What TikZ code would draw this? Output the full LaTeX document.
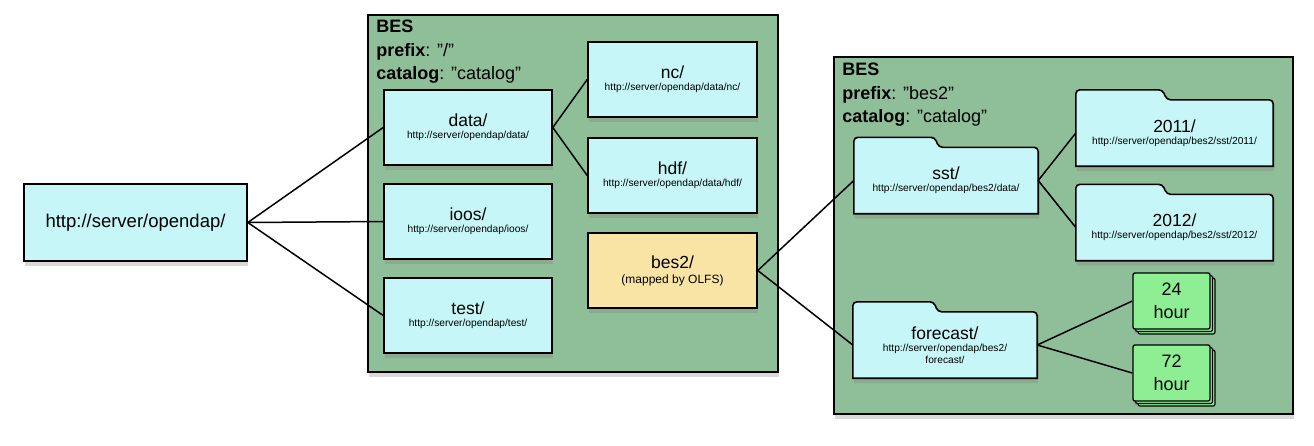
\documentclass[tikz,border=0pt]{standalone}
\usepackage{fontspec}
\setmainfont{Liberation Sans}
\usetikzlibrary{shadows,backgrounds,calc}

\definecolor{dircyan}{RGB}{198,246,248}
\definecolor{besgreen}{RGB}{143,191,152}
\definecolor{mapyellow}{RGB}{249,228,166}
\definecolor{hourgreen}{RGB}{142,238,148}

% small address line under a directory name
\newcommand{\addr}[1]{\\{\fontsize{10.2}{12}\selectfont #1}}
% straight double quote
\newcommand{\dq}{\char34}

% folder outline drawn behind a folder node
\newcommand{\drawfolder}[1]{%
  \draw[folderline] (#1.south west) [rounded corners=4pt]
    -- ($(#1.north west)+(0,-10)$)
    -- ($(#1.north west)!0.44!(#1.north east)+(0,-10)$)
    -- ($(#1.north west)!0.46!(#1.north east)$)
    -- (#1.north east) [sharp corners]
    -- (#1.south east) -- cycle;}

\begin{document}
\begin{tikzpicture}
        [x=1pt, y=-1pt,
        shade/.style={drop shadow={shadow xshift=1pt, shadow yshift=-5pt, opacity=0.3}},
        box/.style={draw, line width=1.6pt, fill=dircyan, inner sep=0pt, align=center,
          minimum width=168pt, minimum height=75pt, font=\fontsize{17.5}{12}\selectfont, shade},
        folder/.style={inner sep=0pt, align=center, minimum width=184pt, minimum height=66pt,
          font=\fontsize{17.5}{12}\selectfont},
        folderline/.style={draw, line width=1.6pt, fill=dircyan, shade},
        bes/.style={draw, line width=1.6pt, fill=besgreen, inner sep=0pt, shade},
        beshead/.style={anchor=north west, align=left, inner sep=0pt, font=\fontsize{18}{23.5}\selectfont},
        stack/.style={preaction={general shadow={shadow xshift=5pt, shadow yshift=-5pt, fill=hourgreen, draw=black, line width=1.2pt}},
          preaction={general shadow={shadow xshift=2.5pt, shadow yshift=-2.5pt, fill=hourgreen, draw=black, line width=1.2pt}}},
        hours/.style={draw, line width=1.4pt, fill=hourgreen, rounded corners=2pt, inner sep=0pt, align=center,
          minimum width=77pt, minimum height=56pt, font=\fontsize{18}{23}\selectfont, shade, stack},
        link/.style={line width=1.5pt, black}]

        \useasboundingbox (0,0) rectangle (1314,445);

        % entry point
        \node[box, minimum width=223pt, minimum height=77pt, font=\fontsize{18.5}{12}\selectfont] (root) at (135.5,222.5) {http://server/opendap/};

        % first BES
        \node[box] (data) at (468,127.5) {data/\addr{http://server/opendap/data/}};
        \node[box] (ioos) at (468,221.5) {ioos/\addr{http://server/opendap/ioos/}};
        \node[box] (test) at (468,315.5) {test/\addr{http://server/opendap/test/}};
        \node[box, minimum width=169pt] (nc) at (672.5,79.5) {nc/\addr{http://server/opendap/data/nc/}};
        \node[box, minimum width=169pt] (hdf) at (672.5,175.5) {hdf/\addr{http://server/opendap/data/hdf/}};
        \node[box, minimum width=169pt, fill=mapyellow] (mapped) at (672.5,270.5) {bes2/\\[3pt]{\fontsize{12}{14}\selectfont (mapped by OLFS)}};

        % second BES
        \node[folder] (sst) at (946,180.5) {sst/\addr{http://server/opendap/bes2/data/}};
        \node[folder, minimum width=197pt] (y2011) at (1174.5,133) {2011/\addr{http://server/opendap/bes2/sst/2011/}};
        \node[folder, minimum width=197pt] (y2012) at (1174.5,227.5) {2012/\addr{http://server/opendap/bes2/sst/2012/}};
        \node[folder] (forecast) at (945,345) {forecast/\addr{http://server/opendap/bes2/}\\{\fontsize{10.2}{12}\selectfont forecast/}};
        \node[hours] (h24) at (1171.5,301) {24\\hour};
        \node[hours] (h72) at (1171.5,373) {72\\hour};

        % BES frames and folder outlines
        \begin{scope}[on background layer]
        \node[bes, minimum width=410pt, minimum height=357pt] (bes1) at (573,193.5) {};
        \node[bes, minimum width=459pt, minimum height=357pt] (bes2) at (1063.5,235.5) {};
        \drawfolder{sst}
        \drawfolder{y2011}
        \drawfolder{y2012}
        \drawfolder{forecast}
        \end{scope}

        % labels for the BES frames
        \node[beshead] (head1) at ([xshift=9pt, yshift=-6pt]bes1.north west)
          {\textbf{BES}\\\textbf{prefix}: \dq/\dq\\\textbf{catalog}: \dq catalog\dq};
        \node[beshead] (head2) at ([xshift=9pt, yshift=-7pt]bes2.north west)
          {\textbf{BES}\\\textbf{prefix}: \dq bes2\dq\\\textbf{catalog}: \dq catalog\dq};

        % connectors
        \draw[link] (root.east) -- (data.west);
        \draw[link] (root.east) -- (ioos.west);
        \draw[link] (root.east) -- (test.west);
        \draw[link] (data.east) -- (nc.west);
        \draw[link] (data.east) -- (hdf.west);
        \draw[link] (mapped.east) -- (sst.west);
        \draw[link] (mapped.east) -- (forecast.west);
        \draw[link] (sst.east) -- (y2011.west);
        \draw[link] (sst.east) -- (y2012.west);
        \draw[link] (forecast.east) -- (h24.west);
        \draw[link] (forecast.east) -- (h72.west);

        \end{tikzpicture}
\end{document}
